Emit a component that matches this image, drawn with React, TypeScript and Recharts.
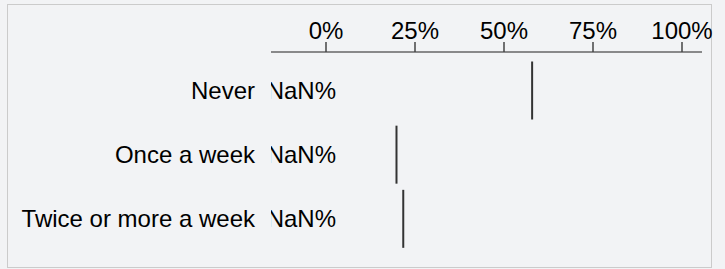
import { BarChart, Bar, XAxis, YAxis, LabelList } from "recharts";

const categories = ["Never", "Once a week", "Twice or more a week"];
const values = [57.9, 19.8, 21.7];
// the source chart shows broken share labels, kept as-is
const shares = [NaN, NaN, NaN];
const xTicks = [0, 25, 50, 75, 100];

const data = categories.map((name, i) => ({ name, value: values[i], share: shares[i] }));

const FONT = '"Liberation Sans", Arial, Helvetica, sans-serif';

function MarkerLine(props: any) {
  const { x, y, width, height } = props;
  const xe = x + width;
  return <line x1={xe} x2={xe} y1={y} y2={y + height} stroke="#333" strokeWidth={2} />;
}

function ShareLabel(props: any) {
  const { viewBox, value } = props;
  if (!viewBox) return null;
  const cy = viewBox.y + viewBox.height / 2;
  return (
    <text
      x={viewBox.x + 10}
      y={cy}
      dy="0.355em"
      textAnchor="end"
      fontSize={24}
      fontFamily={FONT}
      fill="#000"
      clipPath="url(#plotClip)"
    >
      {`${Math.round(value)}%`}
    </text>
  );
}

export default function App() {
  return (
    <div style={{ position: "fixed", top: 0, left: 0, width: 725, height: 269, background: "#f2f3f5" }}>
      <div
        style={{
          position: "absolute",
          left: 7,
          top: 4,
          width: 703,
          height: 262,
          border: "1px solid #cbcbcb",
        }}
      />
      <div style={{ position: "absolute", left: 0, top: 0 }}>
        <BarChart
          width={725}
          height={269}
          data={data}
          layout="vertical"
          margin={{ top: 0, right: 23, bottom: 18, left: 0 }}
          style={{ fontFamily: FONT }}
        >
          <defs>
            <clipPath id="plotClip">
              <rect x={271} y={0} width={454} height={269} />
            </clipPath>
          </defs>
          <XAxis
            type="number"
            orientation="top"
            domain={[0, 100]}
            ticks={xTicks}
            tickFormatter={(v) => `${v}%`}
            height={52}
            padding={{ left: 55, right: 20 }}
            tick={{ fontSize: 24, fill: "#000" }}
            tickSize={10}
            tickMargin={3}
            tickLine={{ stroke: "#444", strokeWidth: 1.5 }}
            axisLine={{ stroke: "#666", strokeWidth: 1.5 }}
          />
          <YAxis
            type="category"
            dataKey="name"
            width={271}
            padding={{ top: 6.5, bottom: 0 }}
            tick={{ fontSize: 24, fill: "#000" }}
            tickSize={0}
            tickMargin={16}
            tickLine={false}
            axisLine={false}
          />
          <Bar dataKey="value" barSize={58} shape={MarkerLine} isAnimationActive={false}>
            <LabelList dataKey="share" content={ShareLabel} />
          </Bar>
        </BarChart>
      </div>
    </div>
  );
}
